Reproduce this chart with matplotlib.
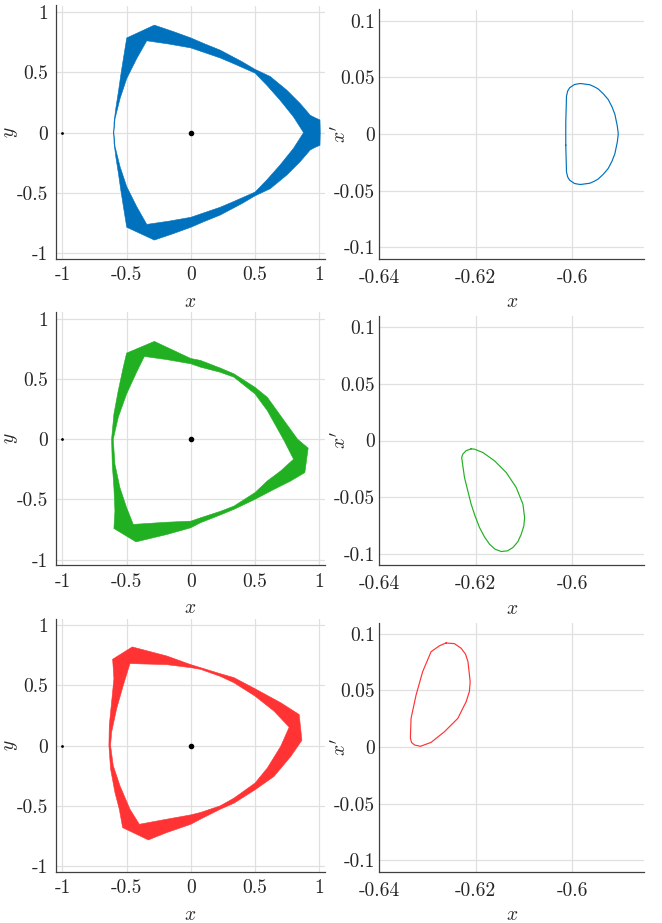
import numpy as np
import matplotlib.pyplot as plt
from matplotlib.path import Path
from matplotlib.patches import PathPatch

plt.rcParams['font.family'] = 'serif'
plt.rcParams['font.serif'] = ['cmr10']
plt.rcParams['mathtext.fontset'] = 'cm'
plt.rcParams['axes.unicode_minus'] = False

colors = ['#0072BD', '#21B021', '#FF3333']

# orbit bands in the (x, y) plane: outer and inner boundary of each band
blue_out_x = [1.008, 1.006, 0.97, 0.93, 0.852, 0.748, 0.618, 0.50, 0.40, 0.23, 0.10, 0.0, -0.14, -0.284,
              -0.499, -0.525, -0.545, -0.564, -0.583, -0.598, -0.600,
              -0.598, -0.583, -0.564, -0.545, -0.525, -0.499,
              -0.284, -0.14, 0.0, 0.10, 0.23, 0.40, 0.50, 0.618, 0.748, 0.852, 0.93, 0.97, 1.006]
blue_out_y = [0.0, 0.105, 0.122, 0.144, 0.241, 0.352, 0.466, 0.525, 0.588, 0.684, 0.74, 0.786, 0.84, 0.892,
              0.786, 0.615, 0.48, 0.338, 0.21, 0.088, 0.0,
              -0.088, -0.21, -0.338, -0.48, -0.615, -0.786,
              -0.892, -0.84, -0.786, -0.74, -0.684, -0.588, -0.525, -0.466, -0.352, -0.241, -0.144, -0.122, -0.105]
blue_in_x = [0.878, 0.80, 0.696, 0.592, 0.50, 0.332, 0.228, 0.0, -0.17, -0.343,
             -0.421, -0.499, -0.551, -0.59, -0.60, -0.59, -0.551, -0.499, -0.421,
             -0.343, -0.17, 0.0, 0.228, 0.332, 0.50, 0.592, 0.696, 0.80]
blue_in_y = [0.0, 0.13, 0.268, 0.393, 0.494, 0.573, 0.62, 0.703, 0.735, 0.762,
             0.615, 0.449, 0.283, 0.116, 0.0, -0.116, -0.283, -0.449, -0.615,
             -0.762, -0.735, -0.703, -0.62, -0.573, -0.494, -0.393, -0.268, -0.13]

green_out_x = [0.914, 0.831, 0.727, 0.596, 0.50, 0.336, 0.229, 0.076, 0.0, -0.284, -0.50,
               -0.526, -0.565, -0.599, -0.617, -0.612, -0.599, -0.591, -0.599, -0.427,
               -0.1875, 0.0, 0.076, 0.229, 0.336, 0.50, 0.648, 0.779, 0.888]
green_out_y = [-0.075, 0.0, 0.153, 0.347, 0.43, 0.542, 0.59, 0.653, 0.669, 0.811, 0.714,
               0.597, 0.403, 0.208, 0.0, -0.208, -0.403, -0.597, -0.742, -0.853,
               -0.792, -0.736, -0.694, -0.63, -0.583, -0.50, -0.417, -0.347, -0.278]
green_in_x = [0.80, 0.727, 0.596, 0.50, 0.336, 0.229, 0.076, 0.0, -0.1875, -0.362,
              -0.422, -0.50, -0.565, -0.604, -0.591, -0.552, -0.50, -0.448,
              -0.1875, 0.0, 0.076, 0.229, 0.336, 0.50, 0.596, 0.70]
green_in_y = [-0.167, -0.014, 0.236, 0.375, 0.514, 0.555, 0.597, 0.625, 0.66, 0.686,
              0.556, 0.375, 0.181, 0.0, -0.208, -0.403, -0.569, -0.708,
              -0.69, -0.681, -0.653, -0.60, -0.556, -0.444, -0.347, -0.264]

red_out_x = [0.865, 0.844, 0.70, 0.50, 0.336, 0.229, 0.076, 0.0, -0.1875, -0.456, -0.609,
             -0.599, -0.617, -0.635, -0.638, -0.625, -0.591, -0.557, -0.531, -0.331,
             -0.1875, 0.0, 0.076, 0.229, 0.336, 0.50, 0.648, 0.779]
red_out_y = [0.044, 0.258, 0.356, 0.472, 0.564, 0.597, 0.647, 0.672, 0.744, 0.819, 0.717,
             0.556, 0.361, 0.167, 0.0, -0.194, -0.389, -0.528, -0.681, -0.783,
             -0.722, -0.653, -0.61, -0.528, -0.478, -0.367, -0.256, -0.089]
red_in_x = [0.766, 0.648, 0.50, 0.336, 0.229, 0.076, 0.0, -0.1875, -0.474,
            -0.526, -0.578, -0.617, -0.625, -0.604, -0.552, -0.474, -0.401,
            -0.1875, 0.0, 0.076, 0.229, 0.336, 0.50, 0.596, 0.70]
red_in_y = [0.153, 0.286, 0.411, 0.522, 0.575, 0.633, 0.647, 0.672, 0.681,
            0.50, 0.306, 0.111, 0.0, -0.167, -0.333, -0.528, -0.653,
            -0.611, -0.575, -0.555, -0.50, -0.436, -0.311, -0.186, -0.006]

# closed curves in the (x, x') section
blue_sec_x = [-0.6013, -0.6013, -0.6012, -0.60115, -0.6009, -0.6005, -0.5995, -0.5988, -0.5982, -0.5963,
              -0.5955, -0.5946, -0.5935, -0.5925, -0.5917, -0.5911, -0.5906, -0.5904,
              -0.5906, -0.5911, -0.5917, -0.5925, -0.5935, -0.5946, -0.5955, -0.5963,
              -0.5982, -0.5988, -0.5995, -0.6005, -0.6009, -0.60115, -0.6012, -0.6013]
blue_sec_y = [-0.01, 0.01, 0.025, 0.0334, 0.038, 0.0408, 0.0437, 0.0443, 0.0446, 0.0435,
              0.042, 0.0399, 0.0355, 0.0305, 0.024, 0.0173, 0.007, 0.0,
              -0.007, -0.0173, -0.024, -0.0305, -0.0355, -0.0399, -0.042, -0.0435,
              -0.0446, -0.0443, -0.0437, -0.0408, -0.038, -0.0334, -0.025, -0.01]
green_sec_x = [-0.62094, -0.62200, -0.62267, -0.62290, -0.62281, -0.62232, -0.62163, -0.62094, -0.6201,
               -0.6192, -0.6182, -0.61712, -0.6160, -0.6147, -0.6134, -0.61227, -0.61125, -0.61054,
               -0.61000, -0.60984, -0.61019, -0.61158, -0.61366, -0.61608, -0.61851, -0.62024]
green_sec_y = [-0.00736, -0.0090, -0.01208, -0.0150, -0.01797, -0.0327, -0.0445, -0.05626, -0.0670,
               -0.07688, -0.0850, -0.0916, -0.0960, -0.09808, -0.0975, -0.09455, -0.0895, -0.08277,
               -0.0755, -0.06804, -0.05626, -0.04153, -0.02828, -0.01797, -0.0106, -0.00766]
red_sec_x = [-0.62614, -0.6244, -0.623, -0.6221, -0.6216, -0.62114, -0.62130, -0.62198, -0.6237,
             -0.62648, -0.62925, -0.63147, -0.6327, -0.63330, -0.63355, -0.63341, -0.63237, -0.6310,
             -0.62925, -0.6275]
red_sec_y = [0.0919, 0.0913, 0.0872, 0.0820, 0.0754, 0.0577, 0.0490, 0.0400, 0.0253,
             0.0135, 0.0041, 0.0006, 0.0018, 0.0040, 0.0077, 0.0253, 0.0459, 0.0666,
             0.0842, 0.0895]

# primaries
body_x = [0.0, -1.0]
body_y = [0.0, 0.0]

xy_ticks = [-1, -0.5, 0, 0.5, 1]
xy_labels = ['-1', '-0.5', '0', '0.5', '1']
sec_xticks = [-0.64, -0.62, -0.6]
sec_xlabels = ['-0.64', '-0.62', '-0.6']
sec_yticks = [-0.1, -0.05, 0, 0.05, 0.1]
sec_ylabels = ['-0.1', '-0.05', '0', '0.05', '0.1']

bands = [(blue_out_x, blue_out_y, blue_in_x, blue_in_y),
         (green_out_x, green_out_y, green_in_x, green_in_y),
         (red_out_x, red_out_y, red_in_x, red_in_y)]
sections = [(blue_sec_x, blue_sec_y), (green_sec_x, green_sec_y), (red_sec_x, red_sec_y)]


def signed_area(p):
    x, y = p[:, 0], p[:, 1]
    return 0.5 * np.sum(x * np.roll(y, -1) - np.roll(x, -1) * y)


def band_patch(ox, oy, ix, iy, color):
    outer = np.column_stack([ox, oy])
    inner = np.column_stack([ix, iy])
    # hole must run the other way round
    if signed_area(outer) * signed_area(inner) > 0:
        inner = inner[::-1]
    verts = np.vstack([outer, outer[:1], inner, inner[:1]])
    codes = ([Path.MOVETO] + [Path.LINETO] * (len(outer) - 1) + [Path.CLOSEPOLY] +
             [Path.MOVETO] + [Path.LINETO] * (len(inner) - 1) + [Path.CLOSEPOLY])
    return PathPatch(Path(verts, codes), facecolor=color, edgecolor=color, lw=0.4, zorder=2)


def style(ax, xt, xl, yt, yl, xpad, ypad):
    ax.set_xticks(xt, xl)
    ax.set_yticks(yt, yl)
    ax.grid(True, color='#e0e0e0', lw=0.9)
    ax.set_axisbelow(True)
    for s in ['top', 'right']:
        ax.spines[s].set_visible(False)
    for s in ['left', 'bottom']:
        ax.spines[s].set_color('#404040')
        ax.spines[s].set_linewidth(0.9)
    ax.tick_params(length=0, labelsize=14, labelcolor='#262626')
    ax.tick_params(axis='x', pad=xpad)
    ax.tick_params(axis='y', pad=ypad)


fig = plt.figure(figsize=(6.62, 9.23), dpi=100)
W, H = 662, 923
row_bottoms = [258.5, 565, 871.5]

for k in range(3):
    yb = row_bottoms[k]
    ax = fig.add_axes([56 / W, (H - yb) / H, 269 / W, 253 / H])
    ox, oy, ix, iy = bands[k]
    ax.add_patch(band_patch(ox, oy, ix, iy, colors[k]))
    ax.plot(body_x[:1], body_y[:1], 'o', color='k', ms=3, zorder=3)
    ax.plot(body_x[1:], body_y[1:], 'o', color='k', ms=1.0, zorder=3)
    ax.set_xlim(-1.05, 1.045)
    ax.set_ylim(-1.045, 1.055)
    style(ax, xy_ticks, xy_labels, xy_ticks, xy_labels, 5.5, 5.5)
    ax.set_xlabel('$x$', fontsize=14, color='#262626')
    ax.set_ylabel('$y$', fontsize=14, color='#262626')
    ax.xaxis.set_label_coords(0.5, -0.135)
    ax.yaxis.set_label_coords(-0.134, 0.5)

    ax2 = fig.add_axes([379.3 / W, (H - yb) / H, 265 / W, 249 / H])
    sx, sy = sections[k]
    ax2.plot(sx + sx[:1], sy + sy[:1], color=colors[k], lw=0.85)
    ax2.set_xlim(-0.64, -0.585)
    ax2.set_ylim(-0.11, 0.11)
    style(ax2, sec_xticks, sec_xlabels, sec_yticks, sec_ylabels, 7.5, 3)
    ax2.set_xlabel('$x$', fontsize=14, color='#262626')
    ax2.set_ylabel("$x'$", fontsize=14, color='#262626')
    ax2.xaxis.set_label_coords(0.5, -0.14)
    ax2.yaxis.set_label_coords(-0.113, 0.5)

fig.savefig('out.png', dpi=100)
